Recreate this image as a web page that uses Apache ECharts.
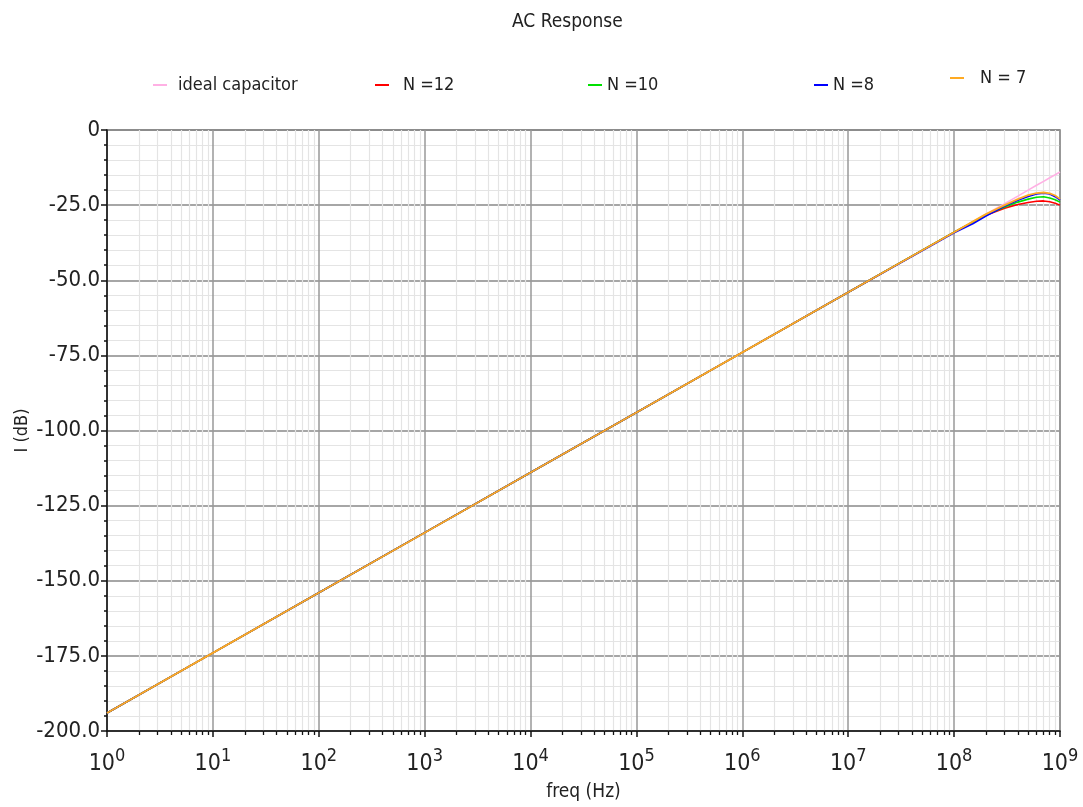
<!DOCTYPE html>
<html>
<head>
<meta charset="utf-8">
<script src="https://cdn.jsdelivr.net/npm/echarts@6/dist/echarts.min.js"></script>
<style>
html,body{margin:0;padding:0;background:#fff;}
#chart{width:1083px;height:807px;}
</style>
</head>
<body>
<div id="chart"></div>
<script>
// frequencies (Hz)
var freq = [1, 10, 100, 1e3, 1e4, 1e5, 1e6, 1e7, 1e8, 1.5e8, 2e8, 3e8, 4e8, 5e8, 6e8, 7e8, 8e8, 9e8, 1e9];
// current magnitude (dB)
var idealCap = [-194, -174, -154, -134, -114, -94, -74, -54, -34, -30.5, -28.0, -24.5, -22.0, -20.0, -18.4, -17.1, -15.9, -14.9, -14.0];
var n12 = [-194, -174, -154, -134, -114, -94, -74, -54, -34, -30.7, -28.4, -26.0, -24.8, -24.1, -23.7, -23.6, -23.9, -24.4, -25.0];
var n10 = [-194, -174, -154, -134, -114, -94, -74, -54, -34, -30.7, -28.3, -25.6, -24.0, -23.0, -22.4, -22.2, -22.6, -23.2, -24.0];
var n8  = [-194, -174, -154, -134, -114, -94, -74, -54, -34.2, -31.2, -28.6, -25.3, -23.4, -22.1, -21.3, -21.0, -21.3, -22.2, -23.3];
var n7  = [-194, -174, -154, -134, -114, -94, -74, -54, -34, -30.5, -28.0, -25.0, -23.0, -21.7, -21.0, -20.8, -21.1, -21.8, -23.0];
var seriesNames = ['ideal capacitor', 'N =12', 'N =10', 'N =8', 'N = 7'];
var seriesColors = ['#ffb0e4', '#ff0000', '#00e000', '#0000ff', '#ffaa22'];
var seriesValues = [idealCap, n12, n10, n8, n7];

var FONT = '"DejaVu Sans Condensed", "DejaVu Sans", sans-serif';
var chart = echarts.init(document.getElementById('chart'));

function pairs(vals){ return freq.map(function(f,i){ return [f, vals[i]]; }); }

var legendPos = [
  {left: 148, top: 71, pad: 6},
  {left: 370, top: 71, pad: 9},
  {left: 583, top: 71, pad: 0},
  {left: 809, top: 71, pad: 0},
  {left: 945, top: 64, pad: 11}
];

var legends = seriesNames.map(function(n, i){
  return {
    data: [n],
    left: legendPos[i].left,
    top: legendPos[i].top,
    icon: 'rect',
    itemWidth: 14,
    itemHeight: 2,
    selectedMode: false,
    textStyle: {fontFamily: FONT, fontSize: 18, color: '#222', padding: [0,0,0,legendPos[i].pad]}
  };
});

var series = seriesNames.map(function(n, i){
  return {
    name: n,
    type: 'line',
    data: pairs(seriesValues[i]),
    showSymbol: false,
    symbol: 'none',
    z: 5 + i,
    lineStyle: {color: seriesColors[i], width: i === 4 ? 1.8 : 1.6},
    itemStyle: {color: seriesColors[i]}
  };
});

chart.setOption({
  animation: false,
  backgroundColor: '#fff',
  title: {
    text: 'AC Response', left: 507, top: 8,
    textStyle: {fontFamily: FONT, fontSize: 19, fontWeight: 'normal', color: '#222'}
  },
  legend: legends,
  grid: {left: 107, right: 23, top: 130, bottom: 74, show: true, borderColor: '#777', borderWidth: 1.5, backgroundColor: '#fff'},
  xAxis: {
    type: 'log', logBase: 10, min: 1, max: 1e9, interval: 1,
    name: 'freq (Hz)', nameLocation: 'middle', nameGap: 52,
    nameTextStyle: {fontFamily: FONT, fontSize: 19, color: '#222'},
    axisLine: {show: true, onZero: false, lineStyle: {color: '#111', width: 1.5}},
    axisTick: {show: true, inside: false, length: 6, lineStyle: {color: '#111', width: 1.5}},
    minorTick: {show: true, splitNumber: 9, length: 4, lineStyle: {color: '#111', width: 1.3}},
    splitLine: {show: true, lineStyle: {color: '#999', width: 1.5}},
    minorSplitLine: {show: true, lineStyle: {color: '#e4e4e4', width: 1.2}},
    axisLabel: {
      margin: 16,
      formatter: function(v){ return '{b|10}{s|' + Math.round(Math.log10(v)) + '}'; },
      rich: {
        b: {fontFamily: FONT, fontSize: 23, color: '#222', verticalAlign: 'bottom'},
        s: {fontFamily: FONT, fontSize: 18, color: '#222', padding: [0,0,11,0], verticalAlign: 'bottom'}
      }
    }
  },
  yAxis: {
    type: 'value', min: -200, max: 0, interval: 25,
    name: 'I (dB)', nameLocation: 'middle', nameGap: 76, nameRotate: 90, nameMoveOverlap: false,
    nameTextStyle: {fontFamily: FONT, fontSize: 18, color: '#222'},
    axisLine: {show: true, lineStyle: {color: '#111', width: 1.5}},
    axisTick: {show: true, inside: false, length: 6, lineStyle: {color: '#111', width: 1.5}},
    minorTick: {show: true, splitNumber: 5, length: 3, lineStyle: {color: '#111', width: 1.5}},
    splitLine: {show: true, lineStyle: {color: '#888', width: 1.5}},
    minorSplitLine: {show: true, lineStyle: {color: '#e4e4e4', width: 1.2}},
    axisLabel: {
      fontFamily: FONT, fontSize: 22, color: '#222', margin: 7,
      formatter: function(v){ return v === 0 ? '0' : v.toFixed(1); }
    }
  },
  series: series
});
</script>
</body>
</html>
